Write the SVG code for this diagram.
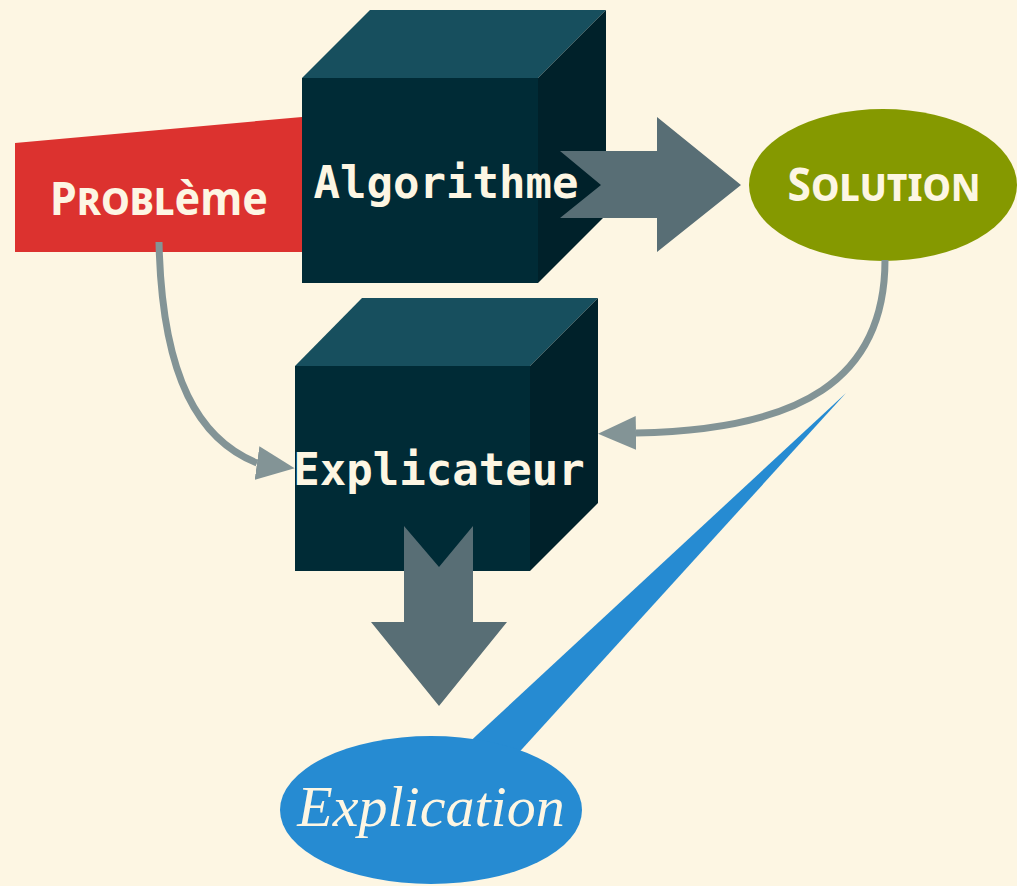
<svg xmlns="http://www.w3.org/2000/svg" width="1017" height="886" viewBox="0 0 1017 886">
  <defs>
    <style>
      .bg { fill: #fdf6e3; }
      .cube-front { fill: #002b36; }
      .cube-top { fill: #174f5e; }
      .cube-side { fill: #00212a; }
      .mono { font-family: "DejaVu Sans Mono", "Liberation Mono", monospace; font-weight: 700; font-size: 44px; fill: #fdf6e3; text-anchor: middle; }
      .caps { font-family: "Noto Sans", "Open Sans", sans-serif; font-weight: 700; font-size: 46px; fill: #fdf6e3; text-anchor: middle; }
      .sc { font-variant: small-caps; }
      .serif-it { font-family: "Liberation Serif", "DejaVu Serif", serif; font-style: italic; font-size: 58px; fill: #fdf6e3; text-anchor: middle; }
      .block-arrow { fill: #586e75; }
      .link { fill: none; stroke: #839496; stroke-width: 7; }
    </style>
    <!-- head that follows the line end -->
    <marker id="head" viewBox="0 0 38 34" refX="0" refY="17" markerWidth="38" markerHeight="34" markerUnits="userSpaceOnUse" orient="auto">
      <path d="M0,0 L38,17 L0,34 Z" fill="#839496"/>
    </marker>
    <!-- head held at a shallow fixed angle -->
    <marker id="head-tilt" viewBox="0 0 38 34" refX="0" refY="17" markerWidth="38" markerHeight="34" markerUnits="userSpaceOnUse" orient="8">
      <path d="M0,0 L38,17 L0,34 Z" fill="#839496"/>
    </marker>
  </defs>

  <rect class="bg" x="0" y="0" width="1017" height="886"/>

  <!-- Problème: slanted red card -->
  <g id="probleme">
    <polygon points="15,143 302,117 302,252 15,252" fill="#dc322f"/>
    <text class="caps" x="159" y="215" textLength="218" lengthAdjust="spacingAndGlyphs"><tspan class="sc">Probl</tspan>ème</text>
  </g>

  <!-- Algorithme: box with depth 68 -->
  <g id="algorithme">
    <polygon class="cube-top" points="302,78 370,10 606,10 538,78"/>
    <polygon class="cube-side" points="538,78 606,10 606,215 538,283"/>
    <rect class="cube-front" x="302" y="78" width="236" height="205"/>
    <text class="mono" x="446" y="198">Algorithme</text>
  </g>

  <!-- Solution -->
  <g id="solution">
    <ellipse cx="883" cy="185" rx="134" ry="76" fill="#859900"/>
    <text class="caps sc" x="884" y="201" textLength="193" lengthAdjust="spacingAndGlyphs">Solution</text>
  </g>

  <!-- Explicateur: box with depth 67 -->
  <g id="explicateur">
    <polygon class="cube-top" points="295,366 362,298 598,298 530,366"/>
    <polygon class="cube-side" points="530,366 598,298 598,503 530,571"/>
    <rect class="cube-front" x="295" y="366" width="235" height="205"/>
    <text class="mono" x="439" y="485">Explicateur</text>
  </g>

  <!-- Explication: speech bubble with a long pointer -->
  <g id="explication">
    <polygon points="846,393 450,760 503,770" fill="#268bd2"/>
    <ellipse cx="431" cy="810" rx="151" ry="74" fill="#268bd2"/>
    <text class="serif-it" x="431" y="826">Explication</text>
  </g>

  <g id="connectors">
    <!-- Algorithme to Solution -->
    <polygon class="block-arrow" points="560,151 657,151 657,117 741,185 657,252 657,218 560,218 601,185"/>
    <!-- Explicateur to Explication -->
    <polygon class="block-arrow" points="404,526 439,567 473,526 473,622 507,622 439,706 371,622 404,622"/>
    <!-- Problème to Explicateur -->
    <path class="link" d="M159,242 C162,380 200,440 257,463" marker-end="url(#head-tilt)"/>
    <!-- Solution to Explicateur -->
    <path class="link" d="M885,260 C885,380 800,430 636,433" marker-end="url(#head)"/>
  </g>
</svg>
